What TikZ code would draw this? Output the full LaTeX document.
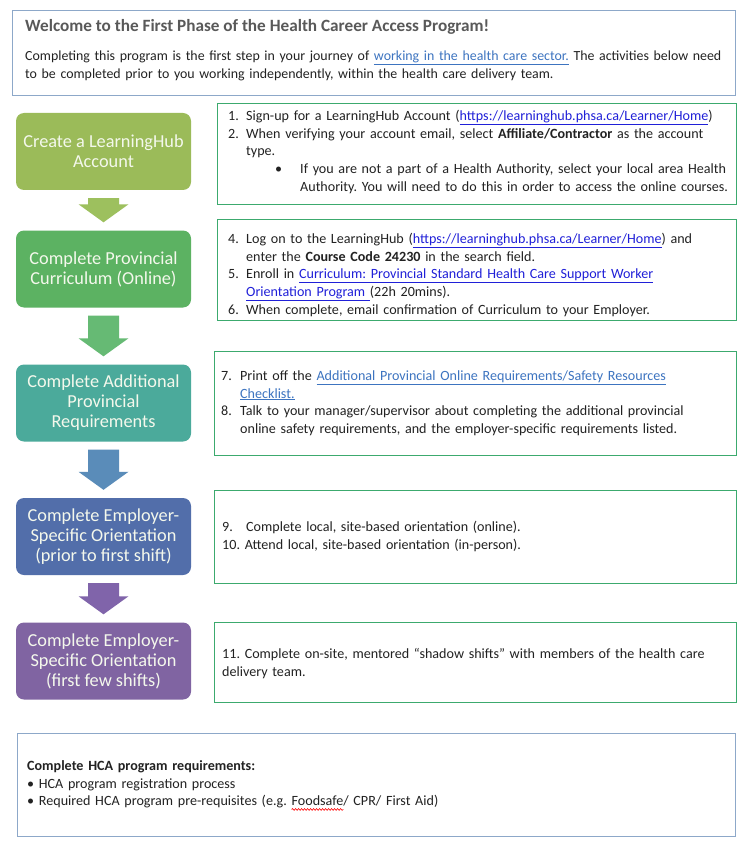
\documentclass[tikz,border=0pt]{standalone}
\usepackage{fontspec}
\setmainfont{Carlito}
\usetikzlibrary{calc,decorations.pathmorphing}
\definecolor{stageA}{HTML}{9BBB59}
\definecolor{stageB}{HTML}{5CB262}
\definecolor{stageC}{HTML}{4BAA9B}
\definecolor{stageD}{HTML}{526EAA}
\definecolor{stageE}{HTML}{8064A2}
\definecolor{arrowA}{HTML}{9DC05E}
\definecolor{arrowB}{HTML}{66BA74}
\definecolor{arrowC}{HTML}{5A8CB9}
\definecolor{arrowD}{HTML}{8064AA}
\definecolor{stagetext}{HTML}{F4F8EC}
\definecolor{infogreen}{HTML}{3CAA6E}
\definecolor{frameblue}{HTML}{8DA8C9}
\definecolor{bodytext}{HTML}{222222}
\definecolor{titlegray}{HTML}{595959}
\definecolor{linkdark}{HTML}{2020D8}
\definecolor{linklight}{HTML}{3D74C0}
\newcommand\bodyfont{\fontsize{14.1}{17.8}\selectfont}
\newcommand\stagefont{\fontsize{18.3}{20}\selectfont}
\newcommand\titlefont{\fontsize{17.2}{19}\selectfont\bfseries}
\newcommand\num[1]{\makebox[18pt][l]{#1}}
\newcommand\ind{\hspace*{18pt}}
\newcommand\lnkd[1]{\textcolor{linkdark}{\underline{#1}}}
\newcommand\lnkl[1]{\textcolor{linklight}{\underline{#1}}}
\newsavebox\wavebox
\newcommand\redwave[1]{\sbox\wavebox{#1}\rlap{\tikz[overlay]\draw[red, line width=0.6pt, decorate, decoration={snake, amplitude=0.9pt, segment length=3pt}] (0pt,-3.5pt) -- (\wd\wavebox,-3.5pt);}#1}
\newcommand\blockarrow[3]{%
  \fill[#3] ($(#1.south)+(-15.5,8)$) -- ($(#1.south)+(15.5,8)$)
    -- ($(#2.north)+(15.5,-26)$) -- ($(#2.north)+(25,-26)$)
    -- ($(#2.north)+(0,-8)$) -- ($(#2.north)+(-25,-26)$)
    -- ($(#2.north)+(-15.5,-26)$) -- cycle;}
\tikzset{
  stage/.style={rounded corners=8pt, minimum width=175pt, minimum height=77pt,
    inner sep=2pt, text=stagetext, font=\stagefont, align=center},
  infobox/.style={draw=infogreen, line width=1.4pt, anchor=north west, inner sep=0pt},
  framebox/.style={draw=frameblue, line width=1.3pt, anchor=north west, inner sep=0pt},
  txt/.style={anchor=north west, inner sep=0pt, text width=515pt, align=left,
    font=\bodyfont, text=bodytext},
}
\begin{document}
\frenchspacing
\begin{tikzpicture}[x=1pt,y=-1pt]
\useasboundingbox (0,0) rectangle (753,850);
\fill[white] (0,0) rectangle (753,850);

% top frame
\node[framebox, minimum width=723pt, minimum height=85pt] (top) at (12,10) {};
\node[anchor=base west, inner sep=0pt, font=\titlefont, text=titlegray] (title) at (25,32) {Welcome to the First Phase of the Health Career Access Program!};
\node[txt, text width=715pt, font=\fontsize{13.9}{17.8}\selectfont] (intro) at (25,47.7) {\strut Completing this program is the first step in your journey of \lnkl{working in the health care sector.} The activities below need\\
to be completed prior to you working independently, within the health care delivery team.};

% stages
\node[stage, fill=stageA] (s1) at (103.5,151.5) {Create a LearningHub\\Account};
\node[stage, fill=stageB] (s2) at (103.5,269) {Complete Provincial\\Curriculum (Online)};
\node[stage, fill=stageC] (s3) at (103.5,403) {Complete Additional\\Provincial\\Requirements};
\node[stage, fill=stageD] (s4) at (103.5,536.5) {Complete Employer-\\Specific Orientation\\(prior to first shift)};
\node[stage, fill=stageE] (s5) at (103.5,661) {Complete Employer-\\Specific Orientation\\(first few shifts)};

\blockarrow{s1}{s2}{arrowA}
\blockarrow{s2}{s3}{arrowB}
\blockarrow{s3}{s4}{arrowC}
\blockarrow{s4}{s5}{arrowD}

% info boxes
\node[infobox, minimum width=519pt, minimum height=101pt] (b1) at (217,103) {};
\node[infobox, minimum width=519pt, minimum height=101pt] (b2) at (217,219) {};
\node[infobox, minimum width=522pt, minimum height=104pt] (b3) at (214,351) {};
\node[infobox, minimum width=522pt, minimum height=93pt] (b4) at (214,490) {};
\node[infobox, minimum width=522pt, minimum height=80pt] (b5) at (214,622) {};

\node[txt] (t1) at (228,107.7) {\strut\num{1.}Sign-up for a LearningHub Account (\lnkd{https://learninghub.phsa.ca/Learner/Home})\\
\num{2.}When verifying your account email, select \textbf{Affiliate/Contractor} as the account\\
\ind type.\\
\hspace*{47pt}\makebox[25pt][l]{\textbullet}If you are not a part of a Health Authority, select your local area Health\\
\hspace*{72pt}Authority. You will need to do this in order to access the online courses.};

\node[txt] (t2) at (228,230.7) {\strut\num{4.}Log on to the LearningHub (\lnkd{https://learninghub.phsa.ca/Learner/Home}) and\\
\ind enter the \textbf{Course Code 24230} in the search field.\\
\num{5.}Enroll in \lnkd{Curriculum: Provincial Standard Health Care Support Worker}\\
\ind\lnkd{Orientation Program\ }(22h 20mins).\\
\num{6.}When complete, email confirmation of Curriculum to your Employer.};

\node[txt] (t3) at (221,367.7) {\strut\makebox[19pt][l]{7.}Print off the \lnkl{Additional Provincial Online Requirements/Safety Resources}\\
\hspace*{19pt}\lnkl{Checklist.}\\
\makebox[19pt][l]{8.}Talk to your manager/supervisor about completing the additional provincial\\
\hspace*{19pt}online safety requirements, and the employer-specific requirements listed.};

\node[txt] (t4) at (222,518.7) {\strut\makebox[24pt][l]{9.}Complete local, site-based orientation (online).\\
10. Attend local, site-based orientation (in-person).};

\node[txt] (t5) at (222,645.7) {\strut 11. Complete on-site, mentored “shadow shifts” with members of the health care\\
delivery team.};

% bottom frame
\node[framebox, minimum width=718pt, minimum height=103pt] (bottom) at (17,733) {};
\node[txt] (t6) at (27,757.7) {\strut\textbf{Complete HCA program requirements:}\\
\textbullet\ HCA program registration process\\
\textbullet\ Required HCA program pre-requisites (e.g. \redwave{Foodsafe}/ CPR/ First Aid)};
\end{tikzpicture}
\end{document}
